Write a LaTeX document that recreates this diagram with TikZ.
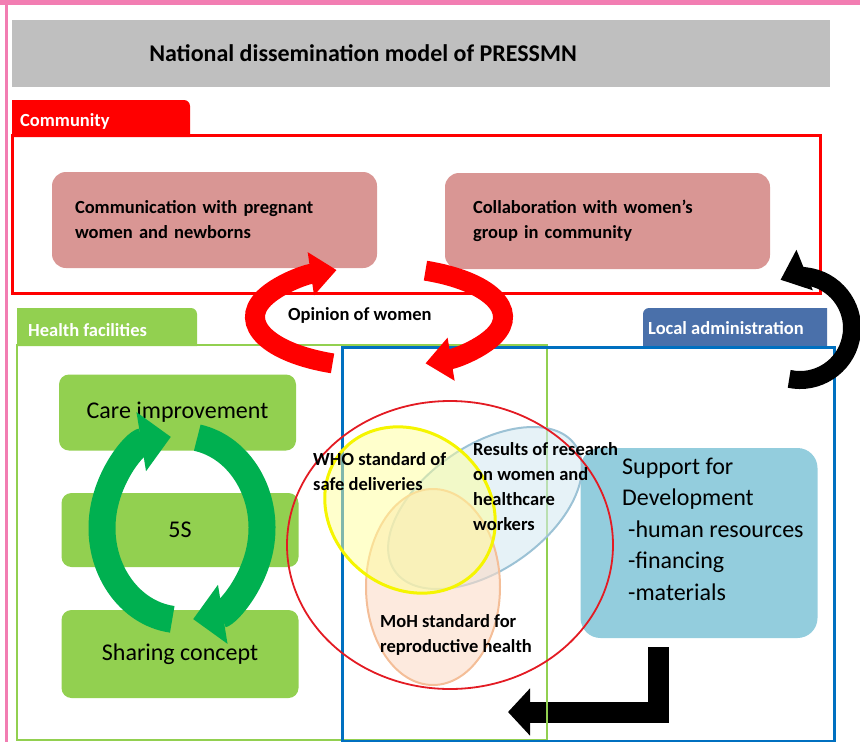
\documentclass[tikz,border=0pt]{standalone}
\usepackage{fontspec}
\setmainfont{Carlito}
\usetikzlibrary{arrows.meta}
\definecolor{pinkline}{HTML}{F27DB2}
\definecolor{titlegray}{HTML}{BFBFBF}
\definecolor{commred}{HTML}{FF0000}
\definecolor{rosebox}{HTML}{D99694}
\definecolor{hgreen}{HTML}{92D050}
\definecolor{darkgreen}{HTML}{00B050}
\definecolor{admblue}{HTML}{4A70AA}
\definecolor{frameblue}{HTML}{0070C0}
\definecolor{supblue}{HTML}{93CDDD}
\definecolor{vennred}{HTML}{E31B23}
\definecolor{whoyellow}{HTML}{F5F500}
\definecolor{whofill}{HTML}{FFFF99}
\definecolor{resline}{HTML}{9CC2D5}
\definecolor{resfill}{HTML}{D5EAF2}
\definecolor{mohline}{HTML}{F4BE98}
\definecolor{mohfill}{HTML}{FBDCC8}
\tikzset{font=\fontsize{18.5}{25}\selectfont\bfseries}
\tikzstyle{lbl}=[inner sep=0pt,anchor=west,align=left]
\tikzstyle{tabtxt}=[lbl,text=white]
\tikzstyle{rbox}=[fill=rosebox,rounded corners=14pt,minimum width=325pt,minimum height=96pt,inner ysep=0pt,align=left]
\tikzstyle{gbox}=[fill=hgreen,rounded corners=10pt,minimum width=237pt,font=\fontsize{24}{28}\selectfont\mdseries]

\begin{document}
\begin{tikzpicture}[x=1pt,y=-1pt]
\useasboundingbox (0,0) rectangle (860,742);
% page frame
\fill[pinkline] (0,0) rectangle (860,5);
\fill[pinkline] (5,0) rectangle (8,742);
% title bar
\fill[titlegray] (12,20) rectangle (830,87);
\node[font=\fontsize{24}{28}\selectfont\bfseries] (T) at (363,53) {National dissemination model of PRESSMN};

% community
\fill[commred] (12,137) -- (12,100) -- (184,100) arc[start angle=270,end angle=360,radius=6] -- (190,137) -- cycle;
\node[tabtxt] (CT) at (20,121) {Community};
\draw[commred,line width=3pt] (12,135.5) rectangle (820,293.5);
\node[rbox,inner xsep=23pt,text width=279pt] (C1) at (214.5,220) {Communication with pregnant\\women and newborns};
\node[rbox,inner xsep=28pt,text width=269pt] (C2) at (607.5,221) {Collaboration with women’s\\group in community};

% tabs
\fill[hgreen] (17,346) -- (17,308) -- (191,308) arc[start angle=270,end angle=360,radius=6] -- (197,346) -- cycle;
\node[tabtxt] (HT) at (28,330) {Health facilities};
\fill[admblue] (643,346) -- (643,314) arc[start angle=180,end angle=270,radius=6] -- (827,308) -- (827,346) -- cycle;
\node[tabtxt] (LT) at (648,328) {Local administration};

% back to health facilities
\coordinate (L1) at (658,647);
\coordinate (L2) at (508,712);
\draw[line width=21pt,-{Triangle[width=46pt,length=22pt]}] (L1) |- (L2);

% frames
\draw[hgreen,line width=2.5pt] (17,345) rectangle (547,740);
\draw[frameblue,line width=3pt] (342,347) rectangle (834,741);

% 5S cycle
\node[gbox,minimum height=76pt] (CI) at (177.5,412.5) {Care improvement};
\node[gbox,minimum height=74pt] (S5) at (180,530) {5S};
\node[gbox,minimum height=88pt] (SC) at (180,654) {Sharing concept};

% support
\node[fill=supblue,rounded corners=20pt,minimum width=237pt,minimum height=190pt] (SD) at (699,543) {};
\node[lbl,font=\fontsize{24}{31.5}\selectfont\mdseries] (SDT) at (622,529) {Support for\\Development\\\hspace*{6pt}-human resources\\\hspace*{6pt}-financing\\\hspace*{6pt}-materials};

% standards
\draw[resline,line width=2pt,fill=resfill,fill opacity=0.6,rotate around={35:(485,508)}] (485,508) ellipse[x radius=110,y radius=62];
\draw[mohline,line width=2pt,fill=mohfill,fill opacity=0.6] (433,587) ellipse[x radius=67,y radius=98];
\draw[whoyellow,line width=3pt,fill=whofill,fill opacity=0.5,rotate around={-40:(410,510)}] (410,510) ellipse[x radius=90,y radius=78];
\draw[vennred,line width=1.8pt] (450,545) ellipse[x radius=163,y radius=144];
\node[lbl] (WHO) at (313,472) {WHO standard of\\safe deliveries};
\node[lbl] (RES) at (473,487) {Results of research\\on women and\\healthcare\\workers};
\node[lbl] (MOH) at (380,635) {MoH standard for\\reproductive health};

% opinion of women
\coordinate (R) at (379,317);
\draw[commred,line width=20pt,-{Triangle[width=42pt,length=26pt]}] ([shift={(112:124 and 50)}]R) arc[start angle=112,end angle=250,x radius=124,y radius=50];
\draw[commred,line width=20pt,-{Triangle[width=42pt,length=26pt]}] ([shift={(292:124 and 50)}]R) arc[start angle=292,end angle=428,x radius=124,y radius=50];
\node[lbl] (OP) at (288,315) {Opinion of women};

% green cycle arrows
\coordinate (G) at (182,528);
\draw[darkgreen,line width=27pt,-{Triangle[width=58pt,length=30pt]}] ([shift={(97:80 and 92)}]G) arc[start angle=97,end angle=262,x radius=80,y radius=92];
\draw[darkgreen,line width=27pt,-{Triangle[width=58pt,length=30pt]}] ([shift={(281:80 and 92)}]G) arc[start angle=281,end angle=442,x radius=80,y radius=92];

% administration to community
\coordinate (K) at (800,328);
\draw[line width=18pt,-{Triangle[width=42pt,length=26pt]}] ([shift={(102:52 and 52)}]K) arc[start angle=102,end angle=-112,radius=52];
\end{tikzpicture}
\end{document}
